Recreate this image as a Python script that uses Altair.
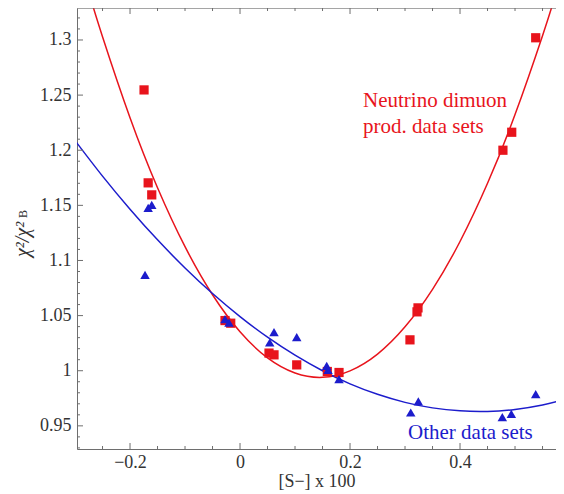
import altair as alt
import pandas as pd

# ---- data ----
red_x = [-0.1745, -0.167, -0.1605, -0.0273, -0.0169, 0.0527, 0.0618, 0.1031,
         0.1587, 0.18, 0.309, 0.3236, 0.3218, 0.478, 0.494, 0.5376]
red_y = [1.2547, 1.1704, 1.1595, 1.0455, 1.0431, 1.0160, 1.0144, 1.0053,
         0.9993, 0.9984, 1.028, 1.057, 1.0534, 1.200, 1.2163, 1.302]

blue_x = [-0.1727, -0.167, -0.1605, -0.0273, -0.020, 0.0618, 0.054, 0.1031,
          0.1576, 0.160, 0.180, 0.3104, 0.3242, 0.4769, 0.4933, 0.5376]
blue_y = [1.087, 1.1477, 1.1504, 1.0468, 1.0437, 1.035, 1.0256, 1.0305,
          1.0044, 1.0008, 0.9924, 0.9621, 0.9721, 0.9579, 0.9609, 0.9788]

red_curve_x = [-0.27, -0.25, -0.2, -0.15, -0.1, -0.05, 0.0, 0.05, 0.1, 0.15,
               0.2, 0.25, 0.3, 0.35, 0.4, 0.45, 0.5, 0.55, 0.57]
red_curve_y = [1.335, 1.303, 1.2295, 1.166, 1.1125, 1.0689, 1.0353, 1.0116, 0.9979, 0.994,
               0.9999, 1.0151, 1.0398, 1.0738, 1.1172, 1.170, 1.2323, 1.3039, 1.3352]

blue_curve_x = [-0.3, -0.25, -0.2, -0.15, -0.1, -0.05, 0.0, 0.05, 0.1, 0.15,
                0.2, 0.25, 0.3, 0.35, 0.4, 0.45, 0.5, 0.55, 0.58]
blue_curve_y = [1.2088, 1.1765, 1.1465, 1.1187, 1.0932, 1.070, 1.0491, 1.0304, 1.0141, 1.000,
                0.9881, 0.9786, 0.9713, 0.9663, 0.9636, 0.9631, 0.9649, 0.969, 0.9726]

x_major = [-0.2, 0.0, 0.2, 0.4]
x_minor = [-0.25, -0.15, -0.1, -0.05, 0.05, 0.1, 0.15, 0.25, 0.3, 0.35, 0.45, 0.5, 0.55]
y_major = [0.95, 1.0, 1.05, 1.1, 1.15, 1.2, 1.25, 1.3]
y_minor = [0.93, 0.94, 0.96, 0.97, 0.98, 0.99, 1.01, 1.02, 1.03, 1.04, 1.06, 1.07, 1.08, 1.09,
           1.11, 1.12, 1.13, 1.14, 1.16, 1.17, 1.18, 1.19, 1.21, 1.22, 1.23, 1.24,
           1.26, 1.27, 1.28, 1.29, 1.31, 1.32]

label_neutrino = ["Neutrino dimuon", "prod. data sets"]
label_other = ["Other data sets"]
y_title = "\u03c7\u00b2/\u03c7\u00b2"
y_title_sub = "B"
x_title = "[S\u2212] x 100"

# ---- layout ----
W, H = 479, 441
XDOM = [-0.2964, 0.5745]
YDOM = [0.929, 1.329]
FONT = "Times New Roman, Liberation Serif, DejaVu Serif, serif"
RED = "#e8141c"
BLUE = "#1c1ccc"
FRAME = "#6e6e6e"
TXT = "#333333"

xs = alt.Scale(domain=XDOM, nice=False, zero=False)
ys = alt.Scale(domain=YDOM, nice=False, zero=False)

xaxis = alt.Axis(values=x_major, format="~g", ticks=False, grid=False,
                 domainColor=FRAME, labelFont=FONT, labelFontSize=18, labelColor=TXT,
                 labelPadding=4, title=x_title, titleFont=FONT, titleFontSize=18,
                 titleFontWeight="normal", titleColor=TXT, titlePadding=1)
yaxis = alt.Axis(values=y_major, format="~g", ticks=False, grid=False,
                 domainColor=FRAME, labelFont=FONT, labelFontSize=18, labelColor=TXT,
                 labelPadding=6, title=None)

red_curve = alt.Chart(pd.DataFrame({"x": red_curve_x, "y": red_curve_y})).mark_line(
    color=RED, strokeWidth=1.5, interpolate="natural", clip=True
).encode(x=alt.X("x:Q", scale=xs, axis=xaxis), y=alt.Y("y:Q", scale=ys, axis=yaxis))

blue_curve = alt.Chart(pd.DataFrame({"x": blue_curve_x, "y": blue_curve_y})).mark_line(
    color=BLUE, strokeWidth=1.5, interpolate="natural", clip=True
).encode(x="x:Q", y="y:Q")

red_pts = alt.Chart(pd.DataFrame({"x": red_x, "y": red_y})).mark_point(
    shape="square", filled=True, color=RED, size=85, opacity=1
).encode(x="x:Q", y="y:Q")

blue_pts = alt.Chart(pd.DataFrame({"x": blue_x, "y": blue_y})).mark_point(
    shape="triangle-up", filled=True, color=BLUE, size=90, opacity=1
).encode(x="x:Q", y="y:Q")


def xticks(vals, length):
    df = pd.DataFrame({"x": vals})
    bottom = alt.Chart(df).mark_rule(color=FRAME, strokeWidth=1).encode(
        x="x:Q", y=alt.value(H), y2=alt.value(H - length))
    top = alt.Chart(df).mark_rule(color=FRAME, strokeWidth=1).encode(
        x="x:Q", y=alt.value(0), y2=alt.value(length))
    return [bottom, top]


def yticks(vals, length):
    df = pd.DataFrame({"y": vals})
    return [alt.Chart(df).mark_rule(color=FRAME, strokeWidth=1).encode(
        y="y:Q", x=alt.value(0), x2=alt.value(length))]


top_line = alt.Chart(pd.DataFrame({"a": [0]})).mark_rule(color=FRAME, strokeWidth=1).encode(
    x=alt.value(0), x2=alt.value(W), y=alt.value(0))


def text(t, x, y, color, size, **kw):
    return alt.Chart(pd.DataFrame({"t": [t]})).mark_text(
        font=FONT, fontSize=size, color=color, **kw
    ).encode(text="t:N", x=alt.value(x), y=alt.value(y))


neut1 = text(label_neutrino[0], 286, 99, RED, 21, align="left", baseline="alphabetic")
neut2 = text(label_neutrino[1], 286, 125, RED, 21, align="left", baseline="alphabetic")
other = text(label_other[0], 331, 431, BLUE, 21, align="left", baseline="alphabetic")
yt_main = text(y_title, -48, 249, TXT, 20, angle=270, align="left", baseline="alphabetic",
               fontStyle="italic")
yt_sub = text(y_title_sub, -48, 249, TXT, 12, angle=270, align="left", baseline="alphabetic",
              dx=39, dy=-2)

layers = [red_curve, blue_curve, top_line]
layers += xticks(x_major, 6) + xticks(x_minor, 3) + yticks(y_major, 6) + yticks(y_minor, 3)
layers += [red_pts, blue_pts, neut1, neut2, other, yt_main, yt_sub]

chart = alt.layer(*layers).properties(
    width=W, height=H,
    autosize=alt.AutoSizeParams(type="none"),
    padding={"left": 69, "top": 0, "right": 0, "bottom": 45},
).configure_view(stroke=None).configure(background="white")

chart.save("out.html", embed_options={"renderer": "svg", "actions": False})
